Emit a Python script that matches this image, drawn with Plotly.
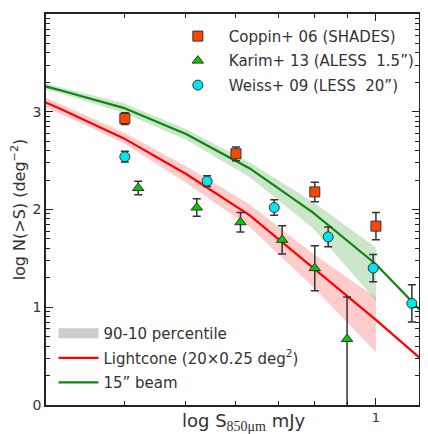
import math
import plotly.graph_objects as go

# ---- observational data ----
coppin_S = [0.40, 0.60, 0.80, 1.00, 1.20]
coppin_N = [2.93, 2.57, 2.18, 1.83, 1.51]
coppin_err = [0.06, 0.07, 0.10, 0.14, 0.10]

karim_S = [0.42, 0.52, 0.61, 0.71, 0.80, 0.90]
karim_N = [2.22, 2.02, 1.87, 1.69, 1.40, 0.675]
karim_err_up = [0.07, 0.09, 0.10, 0.145, 0.23, 0.43]
karim_err_dn = [0.07, 0.09, 0.10, 0.145, 0.23, 1.20]

weiss_S = [0.40, 0.54, 0.69, 0.84, 0.99, 1.14]
weiss_N = [2.54, 2.29, 2.02, 1.72, 1.40, 1.04]
weiss_err = [0.055, 0.055, 0.08, 0.10, 0.14, 0.19]

# ---- model curves ----
model_S = [0.251, 0.316, 0.398, 0.501, 0.631, 0.794, 1.0, 1.259]
lightcone_N = [3.31, 3.03, 2.73, 2.36, 1.94, 1.41, 0.87, 0.31]
beam_N = [3.39, 3.22, 3.04, 2.77, 2.42, 1.97, 1.44, 0.77]

band_S = [0.251, 0.316, 0.398, 0.501, 0.631, 0.794, 1.0]
lightcone_hi = [3.36, 3.08, 2.79, 2.44, 2.05, 1.55, 1.10]
lightcone_lo = [3.26, 2.98, 2.68, 2.27, 1.82, 1.21, 0.54]
beam_hi = [3.42, 3.25, 3.09, 2.82, 2.48, 2.08, 1.61]
beam_lo = [3.36, 3.19, 2.99, 2.71, 2.33, 1.81, 1.07]

x_minor = [0.3, 0.4, 0.5, 0.6, 0.7, 0.8, 0.9]
y_minor = [k + math.log10(m) for k in range(4) for m in range(2, 10)]

FONT = "DejaVu Sans"
TXT = "#333333"
ERRC = "#333333"

fig = go.Figure()

# bands
fig.add_trace(go.Scatter(
    x=band_S + band_S[::-1], y=lightcone_hi + lightcone_lo[::-1],
    fill="toself", fillcolor="rgba(255,0,0,0.2)", line=dict(width=0),
    mode="lines", showlegend=False, hoverinfo="skip"))
fig.add_trace(go.Scatter(
    x=band_S + band_S[::-1], y=beam_hi + beam_lo[::-1],
    fill="toself", fillcolor="rgba(0,128,0,0.2)", line=dict(width=0),
    mode="lines", showlegend=False, hoverinfo="skip"))

# legend-only band entry
fig.add_trace(go.Scatter(
    x=[None], y=[None], mode="lines",
    line=dict(width=12, color="#cccccc"),
    name="90-10 percentile", legend="legend2", legendgroup="a"))

fig.add_trace(go.Scatter(
    x=model_S, y=lightcone_N, mode="lines",
    line=dict(color="#ff0000", width=2.2),
    name="Lightcone (20×0.25 deg<sup>2</sup>)", legend="legend2", legendgroup="b"))
fig.add_trace(go.Scatter(
    x=model_S, y=beam_N, mode="lines",
    line=dict(color="#0c860c", width=2.2),
    name="15” beam", legend="legend2", legendgroup="c"))

# data
fig.add_trace(go.Scatter(
    x=coppin_S, y=coppin_N, mode="markers",
    marker=dict(symbol="square", size=10, color="#ff4500",
                line=dict(color="#333333", width=1)),
    error_y=dict(type="data", array=coppin_err, color=ERRC, thickness=1.5, width=4),
    name="Coppin+ 06 (SHADES)", legendgroup="d"))
fig.add_trace(go.Scatter(
    x=karim_S, y=karim_N, mode="markers",
    marker=dict(symbol="triangle-up", size=10, color="#00cc00",
                line=dict(color="#333333", width=1)),
    error_y=dict(type="data", array=karim_err_up, arrayminus=karim_err_dn,
                 color=ERRC, thickness=1.5, width=4),
    name="Karim+ 13 (ALESS  1.5”)", legendgroup="e"))
fig.add_trace(go.Scatter(
    x=weiss_S, y=weiss_N, mode="markers",
    marker=dict(symbol="circle", size=10, color="#00e5ee",
                line=dict(color="#333333", width=1)),
    error_y=dict(type="data", array=weiss_err, color=ERRC, thickness=1.5, width=4),
    name="Weiss+ 09 (LESS  20”)", legendgroup="f"))

X_MIN = math.log10(0.3)
X_MAX = X_MIN + 373.0 / 631.0

fig.update_layout(
    width=412, height=426,
    margin=dict(l=38, r=1, t=6, b=29, autoexpand=False),
    paper_bgcolor="white", plot_bgcolor="white",
    font=dict(family=FONT, size=14, color=TXT),
    legend=dict(x=0.324, y=0.985, xanchor="left", yanchor="top",
                bgcolor="rgba(0,0,0,0)", font=dict(size=15, color=TXT),
                tracegroupgap=2, itemwidth=52),
    legend2=dict(x=0.02, y=0.225, xanchor="left", yanchor="top",
                 bgcolor="rgba(0,0,0,0)", font=dict(size=15, color=TXT),
                 tracegroupgap=2, itemwidth=40),
    xaxis=dict(type="log", range=[X_MIN, X_MAX],
               automargin=False,
               tickmode="array", tickvals=[1], ticktext=["1"],
               ticks="inside", ticklen=7, tickwidth=1.2, tickcolor="#222",
               tickfont=dict(size=13),
               showline=True, linecolor="#222", linewidth=1.5, mirror="allticks",
               showgrid=False, zeroline=False,
               minor=dict(tickmode="array", tickvals=x_minor, ticks="inside",
                          ticklen=4, tickcolor="#222", showgrid=False)),
    yaxis=dict(range=[0, 4], tickmode="array", tickvals=[0, 1, 2, 3, 4],
               automargin=False,
               ticks="inside", ticklen=7, tickwidth=1.2, tickcolor="#222",
               showline=True, linecolor="#222", linewidth=1.5, mirror="allticks",
               showgrid=False, zeroline=False,
               minor=dict(tickmode="array", tickvals=y_minor, ticks="inside",
                          ticklen=4, tickcolor="#222", showgrid=False),
               title=dict(text="log N(>S) (deg<sup>−2</sup>)",
                          font=dict(size=16, color=TXT), standoff=6)),
    annotations=[dict(
        text="log S<sub><span style='font-family:Liberation Serif;font-size:14px'>850μm</span></sub> mJy",
        xref="paper", yref="paper", x=0.531, y=-0.0435, xanchor="center", yanchor="middle",
        showarrow=False, font=dict(size=18, color=TXT))],
)

fig.write_html("out.html")
